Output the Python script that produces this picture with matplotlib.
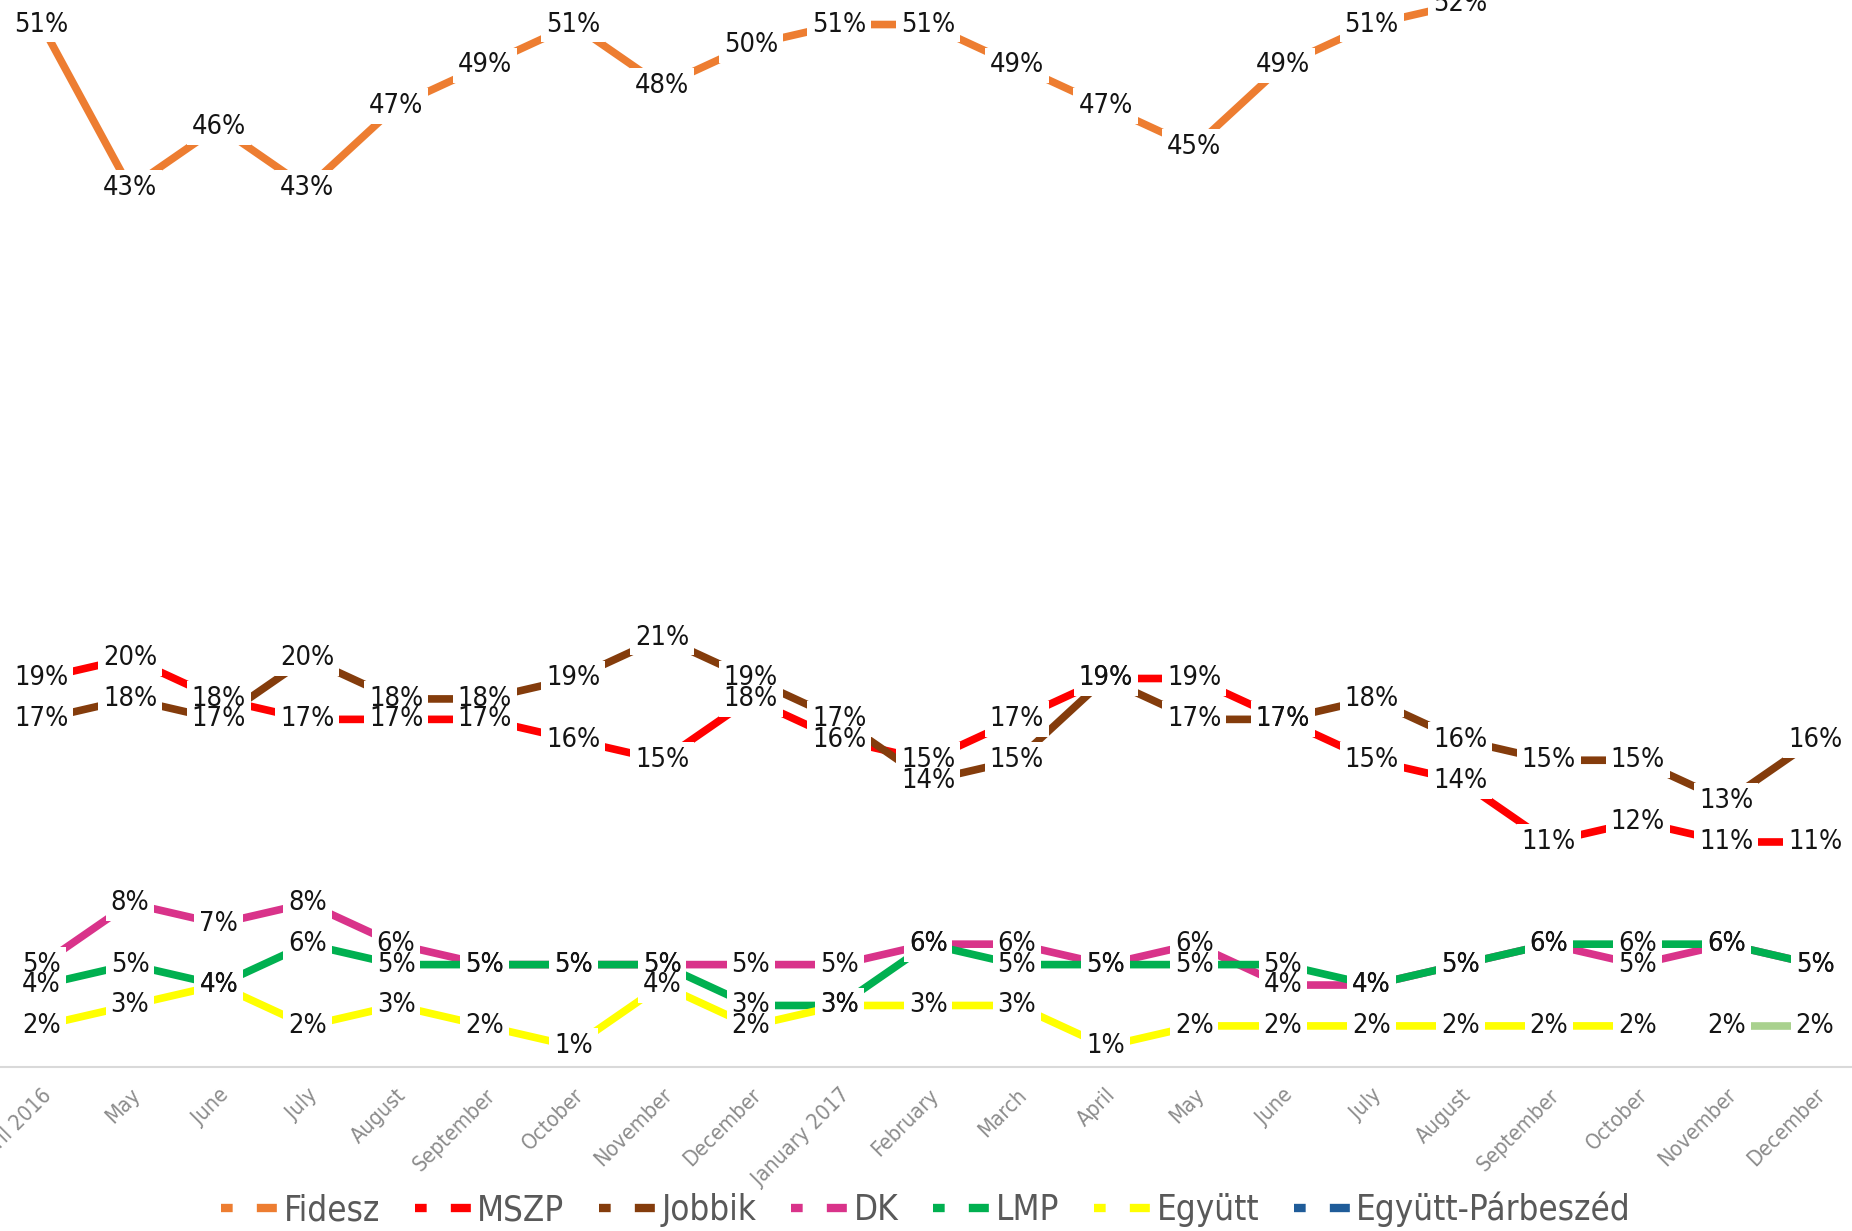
import numpy as np
import matplotlib
matplotlib.use("Agg")
import matplotlib.pyplot as plt
from matplotlib import font_manager
from matplotlib.font_manager import FontProperties
from matplotlib.lines import Line2D

# ---------------- data ----------------
categories = ["April 2016", "May", "June", "July", "August", "September", "October",
              "November", "December", "January 2017", "February", "March", "April",
              "May", "June", "July", "August", "September", "October", "November",
              "December"]
nan = np.nan
fidesz = [51, 43, 46, 43, 47, 49, 51, 48, 50, 51, 51, 49, 47, 45, 49, 51, 52, nan, nan, nan, nan]
mszp = [19, 20, 18, 17, 17, 17, 16, 15, 18, 16, 15, 17, 19, 19, 17, 15, 14, 11, 12, 11, 11]
jobbik = [17, 18, 17, 20, 18, 18, 19, 21, 19, 17, 14, 15, 19, 17, 17, 18, 16, 15, 15, 13, 16]
dk = [5, 8, 7, 8, 6, 5, 5, 5, 5, 5, 6, 6, 5, 6, 4, 4, 5, 6, 5, 6, 5]
lmp = [4, 5, 4, 6, 5, 5, 5, 5, 3, 3, 6, 5, 5, 5, 5, 4, 5, 6, 6, 6, 5]
egyutt = [2, 3, 4, 2, 3, 2, 1, 4, 2, 3, 3, 3, 1, 2, 2, 2, 2, 2, 2, nan, nan]
egyutt_parbeszed = [nan] * 21
parbeszed_extra = [nan] * 19 + [2, 2]

series_names = ["Fidesz", "MSZP", "Jobbik", "DK", "LMP", "Együtt", "Együtt-Párbeszéd"]
series_values = [fidesz, mszp, jobbik, dk, lmp, egyutt, egyutt_parbeszed]
series_colors = ["#ED7D31", "#FF0000", "#843C0C", "#D9338A", "#00B050", "#FFFF00", "#1F5C99"]
extra_color = "#A9D18E"

# ---------------- fonts ----------------
plt.rcParams["font.family"] = ["DejaVu Sans"]
condensed = False
try:
    fpath = font_manager.findfont(FontProperties(family="DejaVu Sans", stretch="condensed"))
    condensed = "Condensed" in fpath
except Exception:
    condensed = False

if condensed:
    plt.rcParams["font.stretch"] = "condensed"
    LFS, TFS, GFS = 19.5, 15.5, 25
else:
    LFS, TFS, GFS = 18, 14, 23.5

# ---------------- figure ----------------
fig = plt.figure(figsize=(18.52, 12.31), dpi=100)
ax = fig.add_axes([0.0, 0.1334, 1.0, 0.8666])
x = np.arange(len(categories))

for vals, col in zip(series_values, series_colors):
    ax.plot(x, vals, color=col, lw=5.5, solid_capstyle="butt", zorder=3)
ax.plot(x, parbeszed_extra, color=extra_color, lw=5.5, solid_capstyle="butt", zorder=3)

def label_series(vals):
    for xi, v in zip(x, vals):
        if np.isnan(v):
            continue
        s = f"{int(v)}%"
        ax.text(xi, v, s, ha="center", va="center", fontsize=LFS, color="none",
                zorder=5, bbox=dict(boxstyle="square,pad=0.18", fc="white", ec="none"))
        ax.text(xi, v, s, ha="center", va="center", fontsize=LFS, color="#141414",
                zorder=6)

for vals in series_values:
    label_series(vals)
label_series(parbeszed_extra)

ax.set_xlim(-0.466, 20.417)
ax.set_ylim(0, 52.2)
for side in ["top", "right", "left"]:
    ax.spines[side].set_visible(False)
ax.spines["bottom"].set_color("#d9d9d9")
ax.spines["bottom"].set_linewidth(1.5)
ax.spines["bottom"].set_zorder(1)
ax.set_yticks([])
ax.set_xticks(x)
ax.set_xticklabels(categories, rotation=45, ha="right", rotation_mode="anchor",
                   fontsize=TFS, color="#8c8c8c")
ax.tick_params(axis="x", length=0, pad=13)

handles = [Line2D([0], [0], color=c, lw=6, solid_capstyle="butt", dash_capstyle="butt",
                  linestyle=(0, (1.4, 2.9, 2.4, 10))) for c in series_colors]
fig.legend(handles, series_names, loc="center", bbox_to_anchor=(0.5, 0.0173), ncol=7,
           frameon=False, fontsize=GFS, handlelength=1.7, handletextpad=0.1,
           columnspacing=1.0, labelcolor="#595959", borderaxespad=0, borderpad=0)

fig.savefig("out.png", dpi=100)
